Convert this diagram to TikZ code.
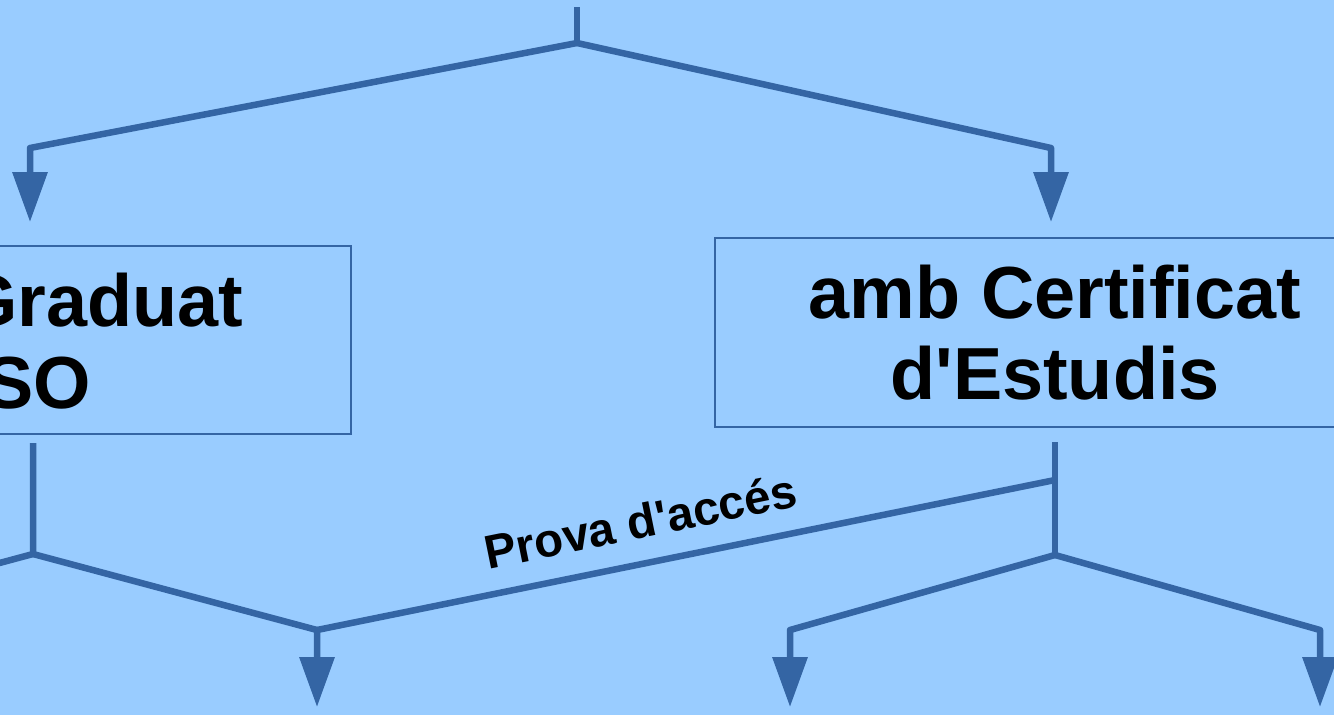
\documentclass[tikz,border=0pt]{standalone}
\usepackage{fontspec}
\setmainfont{Liberation Sans}[Ligatures=TeXOff]
\usepackage{tikz}
\usetikzlibrary{arrows.meta}
\usepackage{xcolor}
\definecolor{ColBack}{RGB}{153,204,255}
\definecolor{ColLine}{RGB}{52,101,164}
\tikzstyle{BoxNode}=[draw=ColLine,line width=0.3mm,inner sep=0pt,align=center,
font=\bfseries\fontsize{42}{46.5}\selectfont]
\tikzstyle{BigText}=[inner sep=0pt,anchor=base west,font=\bfseries\fontsize{42}{46.5}\selectfont]
\tikzstyle{FlowLine}=[ColLine,line width=1.3mm,line join=round]
\tikzstyle{FlowArrow}=[FlowLine,-{Triangle[length=10mm,width=6.8mm]}]
\tikzstyle{LabelText}=[sloped,above,inner sep=4.3mm,text=black,font=\bfseries\fontsize{27}{30}\selectfont]

\begin{document}
\begin{tikzpicture}[x=0.2mm,y=-0.2mm]
        \fill[ColBack](0,0)rectangle(1334,715);
        \useasboundingbox(0,0)rectangle(1334,715);
        \clip(0,0)rectangle(1334,715);
        % boxes
        \node[BoxNode,minimum width=110.4mm,minimum height=37.6mm](gs)at(75,340){};
        \node[BigText](gs1)at(-40,326){Graduat};
        \node[BigText](gs2)at(-16,408){SO};
        \node[BoxNode,minimum width=136mm,minimum height=37.8mm](ce)at(1055,332.5){amb Certificat\\d'Estudis};
        % branch points
        \coordinate(t0)at(577,7);
        \coordinate(t1)at(577,43);
        \coordinate(tl)at(30,148);
        \coordinate(tr)at(1051,148);
        \coordinate(al)at(30,222);
        \coordinate(ar)at(1051,222);
        \coordinate(b0)at(33,443);
        \coordinate(b1)at(33,554);
        \coordinate(bx)at(-60,579);
        \coordinate(b2)at(317,630);
        \coordinate(ab)at(317,707);
        \coordinate(c0)at(1055,442);
        \coordinate(c1)at(1055,480);
        \coordinate(c2)at(1055,555);
        \coordinate(c3)at(790,630);
        \coordinate(c4)at(1320,630);
        \coordinate(ac3)at(790,707);
        \coordinate(ac4)at(1320,707);
        % connectors
        \draw[FlowLine](t0)--(t1);
        \draw[FlowArrow](t1)--(tl)--(al);
        \draw[FlowArrow](t1)--(tr)--(ar);
        \draw[FlowLine](b0)--(b1)--(bx);
        \draw[FlowArrow](b1)--(b2)--(ab);
        \draw[FlowLine](b2)--(c1)node[LabelText,pos=0.45](pa){Prova d'accés};
        \draw[FlowLine](c0)--(c2);
        \draw[FlowArrow](c2)--(c3)--(ac3);
        \draw[FlowArrow](c2)--(c4)--(ac4);
    \end{tikzpicture}
\end{document}
